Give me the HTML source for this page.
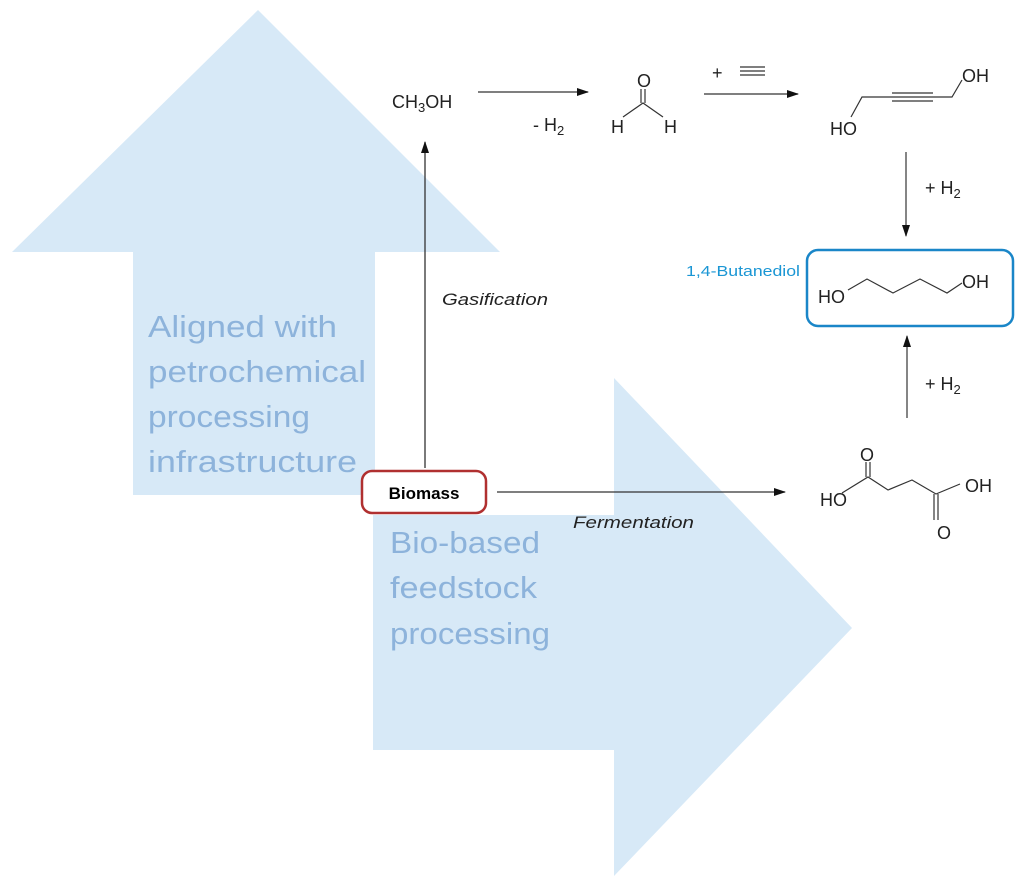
<!DOCTYPE html>
<html><head><meta charset="utf-8"><style>
body{margin:0;background:#fff;}
svg text{font-family:"Liberation Sans",sans-serif;}
</style></head><body>
<svg width="1024" height="884" viewBox="0 0 1024 884" xmlns="http://www.w3.org/2000/svg">
<defs><marker id="ah" markerWidth="12" markerHeight="8" refX="11" refY="4" orient="auto" markerUnits="userSpaceOnUse"><path d="M0,0 L12,4 L0,8 Z" fill="#111"/></marker></defs>
<polygon points="258,10 500,252 375,252 375,495 133,495 133,252 12,252" fill="#d7e9f7"/>
<polygon points="373,515 614,515 614,378 852,628 614,876 614,750 373,750" fill="#d7e9f7"/>
<g font-size="31" fill="#8db3db" font-family="Liberation Sans" lengthAdjust="spacingAndGlyphs">
<text x="148" y="337" textLength="189" lengthAdjust="spacingAndGlyphs">Aligned with</text>
<text x="148" y="382" textLength="218" lengthAdjust="spacingAndGlyphs">petrochemical</text>
<text x="148" y="427" textLength="162" lengthAdjust="spacingAndGlyphs">processing</text>
<text x="148" y="472" textLength="209" lengthAdjust="spacingAndGlyphs">infrastructure</text>
<text x="390" y="553" textLength="150" lengthAdjust="spacingAndGlyphs">Bio-based</text>
<text x="390" y="598" textLength="147" lengthAdjust="spacingAndGlyphs">feedstock</text>
<text x="390" y="644" textLength="160" lengthAdjust="spacingAndGlyphs">processing</text>
</g>
<line x1="425" y1="468" x2="425" y2="142" stroke="#333" stroke-width="1.3" marker-end="url(#ah)"/>
<line x1="497" y1="492" x2="785" y2="492" stroke="#333" stroke-width="1.3" marker-end="url(#ah)"/>
<rect x="362" y="471" width="124" height="42" rx="10" fill="#fff" stroke="#b03030" stroke-width="2.5"/>
<text x="424" y="499" font-size="17" font-weight="bold" text-anchor="middle">Biomass</text>
<text x="442" y="305" font-size="17" font-style="italic" fill="#222" textLength="106" lengthAdjust="spacingAndGlyphs">Gasification</text>
<text x="573" y="528" font-size="17" font-style="italic" fill="#222" textLength="121" lengthAdjust="spacingAndGlyphs">Fermentation</text>
<g font-size="18" fill="#222">
<text x="392" y="108">CH<tspan font-size="13" dy="4">3</tspan><tspan dy="-4">OH</tspan></text>
<text x="533" y="131">- H<tspan font-size="13" dy="4">2</tspan></text>
<text x="637" y="87">O</text>
<text x="611" y="133">H</text><text x="664" y="133">H</text>
<text x="712" y="79">+</text>
<text x="830" y="135">HO</text><text x="962" y="82">OH</text>
<text x="925" y="194">+ H<tspan font-size="13" dy="4">2</tspan></text>
<text x="925" y="390">+ H<tspan font-size="13" dy="4">2</tspan></text>
<text x="818" y="303">HO</text><text x="962" y="288">OH</text>
<text x="820" y="506">HO</text><text x="965" y="492">OH</text>
<text x="860" y="461">O</text><text x="937" y="539">O</text>
</g>
<g stroke="#333" stroke-width="1.2" fill="none">
<line x1="478" y1="92" x2="588" y2="92" marker-end="url(#ah)"/>
<line x1="704" y1="94" x2="798" y2="94" marker-end="url(#ah)"/>
<line x1="740" y1="67" x2="765" y2="67"/><line x1="740" y1="71" x2="765" y2="71"/><line x1="740" y1="75" x2="765" y2="75"/>
<path d="M623,117 L643,103 L663,117"/><line x1="641" y1="89" x2="641" y2="103"/><line x1="645" y1="89" x2="645" y2="103"/>
<path d="M851,117 L862,97 L890,97"/><line x1="890" y1="97" x2="935" y2="97"/><line x1="892" y1="93" x2="933" y2="93"/><line x1="892" y1="101" x2="933" y2="101"/><path d="M935,97 L952,97 L962,80"/>
<line x1="906" y1="152" x2="906" y2="236" marker-end="url(#ah)"/>
<line x1="907" y1="418" x2="907" y2="336" marker-end="url(#ah)"/>
<path d="M848,290 L867,279 L893,293 L920,279 L947,293 L962,283"/>
<path d="M842,493 L868,477 L888,490 L912,480 L936,494 L960,484"/>
<line x1="866" y1="462" x2="866" y2="477"/><line x1="870" y1="462" x2="870" y2="477"/>
<line x1="934" y1="494" x2="934" y2="520"/><line x1="938" y1="494" x2="938" y2="520"/>
</g>
<rect x="807" y="250" width="206" height="76" rx="11" fill="none" stroke="#1a86c8" stroke-width="2.5"/>
<text x="686" y="276" font-size="15" fill="#1a96d4" textLength="114" lengthAdjust="spacingAndGlyphs">1,4-Butanediol</text>
</svg>
</body></html>
